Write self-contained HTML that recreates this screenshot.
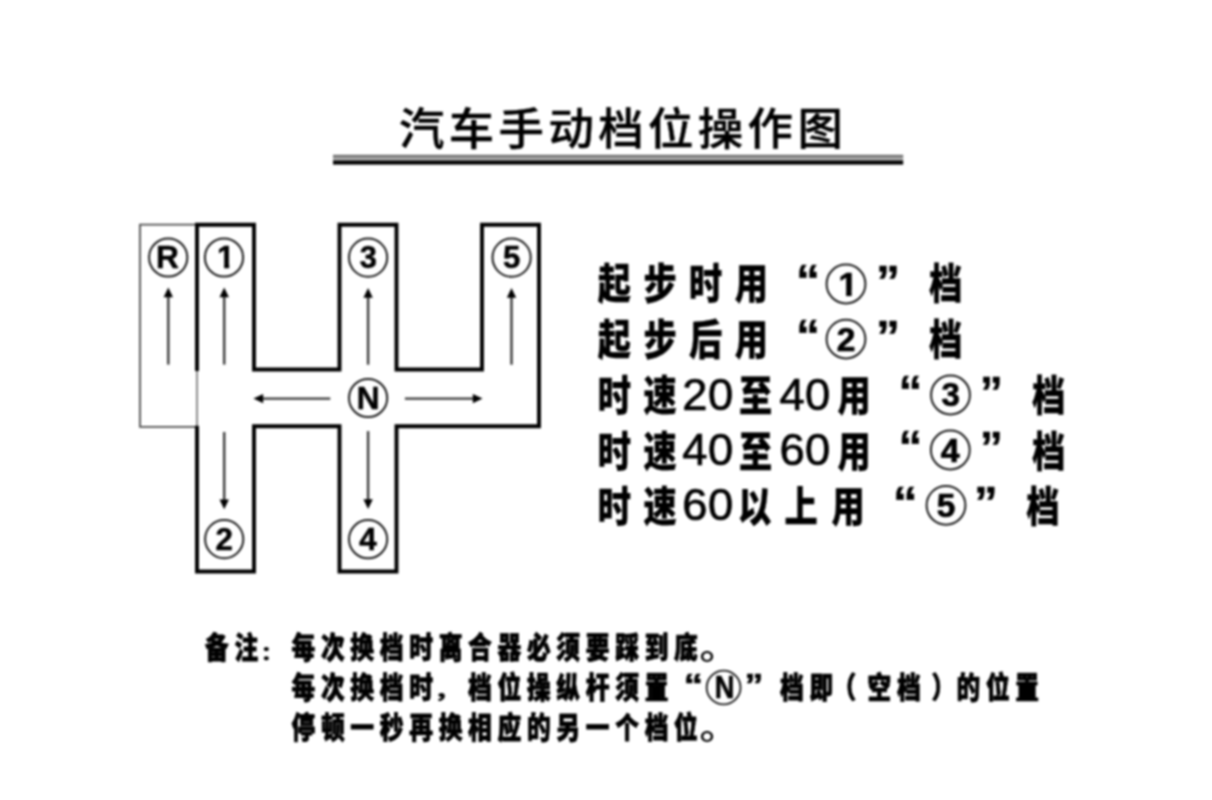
<!DOCTYPE html>
<html lang="zh-CN">
<head>
<meta charset="utf-8">
<title>汽车手动档位操作图</title>
<style>
html,body{margin:0;padding:0;background:#fff;}
body{width:1212px;height:800px;overflow:hidden;position:relative;font-family:"Liberation Sans","Noto Sans CJK SC",sans-serif;color:#000;}
svg{position:absolute;left:0;top:0;display:block;}
text{fill:#000;white-space:pre;}
</style>
</head>
<body>
<svg width="1212" height="800" viewBox="0 0 1212 800" style="filter:blur(1.0px)">
<rect x="0" y="0" width="1212" height="800" fill="#fff"/>
<g id="title">
<text transform="translate(399 144.6) scale(1.018 1)" x="0 48.919 97.839 146.758 195.678 244.597 293.517 342.436 391.356" y="0" font-family='"Liberation Sans","Noto Sans CJK SC",sans-serif' font-size="44.6" font-weight="500" stroke="#000" stroke-width="0.4" stroke-linejoin="round">汽车手动档位操作图</text>
<rect x="333" y="154.8" width="570.2" height="2.2" fill="#6e6e6e"/>
<rect x="333" y="157" width="570.2" height="3.5" fill="#a6a6a6"/>
<rect x="333" y="160.5" width="570.2" height="4.1" fill="#000"/>
</g>
<g id="gearbox">
<path d="M197 224.7 H140 V426.8 H197" fill="none" stroke="#4c4c4c" stroke-width="1.8"/>
<path d="M197 369.5 V426.3" fill="none" stroke="#4c4c4c" stroke-width="1.3"/>
<path d="M197 371 V224.7 H254 V369.5 H339.5 V224.7 H396.5 V369.5 H482 V224.7 H539 V426.3 H396.5 V571.5 H339.5 V426.3 H254 V571.5 H197 V425.7" fill="none" stroke="#000" stroke-width="3.9" stroke-linejoin="miter"/>
<line x1="168.3" y1="364.6" x2="168.3" y2="295.3" stroke="#3a3a3a" stroke-width="2.4"/><polygon points="168.3,287.5 173,297.3 163.6,297.3" fill="#000"/>
<line x1="224.2" y1="364.6" x2="224.2" y2="295.3" stroke="#3a3a3a" stroke-width="2.4"/><polygon points="224.2,287.5 228.9,297.3 219.5,297.3" fill="#000"/>
<line x1="368.1" y1="364.7" x2="368.1" y2="295.7" stroke="#3a3a3a" stroke-width="2.4"/><polygon points="368.1,287.9 372.8,297.7 363.4,297.7" fill="#000"/>
<line x1="511.5" y1="364.7" x2="511.5" y2="295.7" stroke="#3a3a3a" stroke-width="2.4"/><polygon points="511.5,287.9 516.2,297.7 506.8,297.7" fill="#000"/>
<line x1="224.2" y1="432" x2="224.2" y2="501.4" stroke="#3a3a3a" stroke-width="2.4"/><polygon points="224.2,509.2 219.5,499.4 228.9,499.4" fill="#000"/>
<line x1="368.1" y1="431.1" x2="368.1" y2="501.2" stroke="#3a3a3a" stroke-width="2.4"/><polygon points="368.1,509 363.4,499.2 372.8,499.2" fill="#000"/>
<line x1="330.3" y1="398.6" x2="261.2" y2="398.6" stroke="#3a3a3a" stroke-width="2.4"/><polygon points="253.4,398.6 263.2,393.9 263.2,403.3" fill="#000"/>
<line x1="404.9" y1="398.6" x2="474.8" y2="398.6" stroke="#3a3a3a" stroke-width="2.4"/><polygon points="482.6,398.6 472.8,403.3 472.8,393.9" fill="#000"/>
<circle cx="168.2" cy="257.5" r="19.1" fill="none" stroke="#1c1c1c" stroke-width="2"/><text transform="translate(156.089 268.4) scale(1 1)" font-family='"Liberation Sans",sans-serif' font-size="31.594" font-weight="700" stroke="#000" stroke-width="0.5" stroke-linejoin="round">R</text>
<circle cx="224" cy="257.5" r="19.1" fill="none" stroke="#1c1c1c" stroke-width="2"/><clipPath id="one1"><rect x="0" y="-31.594" width="31.594" height="26.619"/><rect x="7.014" y="-5.475" width="5.055" height="5.975"/></clipPath><g transform="translate(217.051 268.4) scale(1.007 1)" clip-path="url(#one1)"><text x="0" y="0" font-family='"Liberation Sans",sans-serif' font-size="31.594" font-weight="700" stroke="#000" stroke-width="0.5" stroke-linejoin="round">1</text></g>
<circle cx="368.1" cy="257.6" r="19.1" fill="none" stroke="#1c1c1c" stroke-width="2"/><text transform="translate(359.719 268.192) scale(1 1)" font-family='"Liberation Sans",sans-serif' font-size="30.849" font-weight="700" stroke="#000" stroke-width="0.5" stroke-linejoin="round">3</text>
<circle cx="511.6" cy="257.6" r="19.1" fill="none" stroke="#1c1c1c" stroke-width="2"/><text transform="translate(502.932 268.189) scale(1 1)" font-family='"Liberation Sans",sans-serif' font-size="31.143" font-weight="700" stroke="#000" stroke-width="0.5" stroke-linejoin="round">5</text>
<circle cx="368.1" cy="398" r="19.1" fill="none" stroke="#1c1c1c" stroke-width="2"/><text transform="translate(356.726 408.9) scale(1 1)" font-family='"Liberation Sans",sans-serif' font-size="31.594" font-weight="700" stroke="#000" stroke-width="0.5" stroke-linejoin="round">N</text>
<circle cx="224.2" cy="539.1" r="19.1" fill="none" stroke="#1c1c1c" stroke-width="2"/><text transform="translate(215.595 550) scale(1 1)" font-family='"Liberation Sans",sans-serif' font-size="31.292" font-weight="700" stroke="#000" stroke-width="0.5" stroke-linejoin="round">2</text>
<circle cx="368.1" cy="539.2" r="19.1" fill="none" stroke="#1c1c1c" stroke-width="2"/><text transform="translate(359.148 550.1) scale(1 1)" font-family='"Liberation Sans",sans-serif' font-size="31.594" font-weight="700" stroke="#000" stroke-width="0.5" stroke-linejoin="round">4</text>
</g>
<g id="tips">
<text transform="translate(597.7 299.3) scale(0.8 1)" x="0 57.125 114.25 171.375" y="0" font-family='"Liberation Sans","Noto Sans CJK SC",sans-serif' font-size="41.5" font-weight="900" stroke="#000" stroke-width="0.3" stroke-linejoin="round">起步时用</text>
<text transform="translate(795.88 296.328) scale(1.071 1)" x="0" y="0" font-family='"Liberation Sans","Noto Sans CJK SC",sans-serif' font-size="44.824" font-weight="900" stroke="#000" stroke-width="0.4" stroke-linejoin="round">“</text>
<circle cx="846" cy="284" r="19.4" fill="none" stroke="#1c1c1c" stroke-width="2"/><clipPath id="one2"><rect x="0" y="-33.913" width="33.913" height="28.683"/><rect x="7.529" y="-5.73" width="5.426" height="6.23"/></clipPath><g transform="translate(838.478 295.7) scale(1.015 1)" clip-path="url(#one2)"><text x="0" y="0" font-family='"Liberation Sans",sans-serif' font-size="33.913" font-weight="700" stroke="#000" stroke-width="0.7" stroke-linejoin="round">1</text></g>
<text transform="translate(875.92 296.972) scale(1.062 1)" x="0" y="0" font-family='"Liberation Sans","Noto Sans CJK SC",sans-serif' font-size="45.176" font-weight="900" stroke="#000" stroke-width="0.4" stroke-linejoin="round">”</text>
<text transform="translate(929 299.3) scale(0.8 1)" x="0" y="0" font-family='"Liberation Sans","Noto Sans CJK SC",sans-serif' font-size="41.5" font-weight="900" stroke="#000" stroke-width="0.3" stroke-linejoin="round">档</text>
<text transform="translate(597.7 354.8) scale(0.8 1)" x="0 57.125 114.25 171.375" y="0" font-family='"Liberation Sans","Noto Sans CJK SC",sans-serif' font-size="41.5" font-weight="900" stroke="#000" stroke-width="0.3" stroke-linejoin="round">起步后用</text>
<text transform="translate(795.88 351.428) scale(1.071 1)" x="0" y="0" font-family='"Liberation Sans","Noto Sans CJK SC",sans-serif' font-size="44.824" font-weight="900" stroke="#000" stroke-width="0.4" stroke-linejoin="round">“</text>
<circle cx="846" cy="339.1" r="19.4" fill="none" stroke="#1c1c1c" stroke-width="2"/><text transform="translate(836.763 350.8) scale(1 1)" font-family='"Liberation Sans",sans-serif' font-size="33.589" font-weight="700" stroke="#000" stroke-width="0.7" stroke-linejoin="round">2</text>
<text transform="translate(875.92 352.072) scale(1.062 1)" x="0" y="0" font-family='"Liberation Sans","Noto Sans CJK SC",sans-serif' font-size="45.176" font-weight="900" stroke="#000" stroke-width="0.4" stroke-linejoin="round">”</text>
<text transform="translate(929 354.8) scale(0.8 1)" x="0" y="0" font-family='"Liberation Sans","Noto Sans CJK SC",sans-serif' font-size="41.5" font-weight="900" stroke="#000" stroke-width="0.3" stroke-linejoin="round">档</text>
<text transform="translate(597.7 411.4) scale(0.8 1)" x="0 57.125" y="0" font-family='"Liberation Sans","Noto Sans CJK SC",sans-serif' font-size="41.5" font-weight="900" stroke="#000" stroke-width="0.3" stroke-linejoin="round">时速</text>
<text transform="translate(682.3 410.1) scale(1.03 1)" x="0 25.049" y="0" font-family='"Liberation Sans",sans-serif' font-size="44" font-weight="400" stroke="#000" stroke-width="0.7" stroke-linejoin="round">20</text>
<text transform="translate(739 411.4) scale(0.8 1)" x="0" y="0" font-family='"Liberation Sans","Noto Sans CJK SC",sans-serif' font-size="41.5" font-weight="900" stroke="#000" stroke-width="0.3" stroke-linejoin="round">至</text>
<text transform="translate(779.6 410.1) scale(1.03 1)" x="0 24.563" y="0" font-family='"Liberation Sans",sans-serif' font-size="44" font-weight="400" stroke="#000" stroke-width="0.7" stroke-linejoin="round">40</text>
<text transform="translate(837.5 411.4) scale(0.8 1)" x="0" y="0" font-family='"Liberation Sans","Noto Sans CJK SC",sans-serif' font-size="41.5" font-weight="900" stroke="#000" stroke-width="0.3" stroke-linejoin="round">用</text>
<text transform="translate(898.601 407.328) scale(1.064 1)" x="0" y="0" font-family='"Liberation Sans","Noto Sans CJK SC",sans-serif' font-size="44.824" font-weight="900" stroke="#000" stroke-width="0.4" stroke-linejoin="round">“</text>
<circle cx="950.5" cy="395" r="19.4" fill="none" stroke="#1c1c1c" stroke-width="2"/><text transform="translate(941.504 406.369) scale(1 1)" font-family='"Liberation Sans",sans-serif' font-size="33.113" font-weight="700" stroke="#000" stroke-width="0.7" stroke-linejoin="round">3</text>
<text transform="translate(979.651 407.972) scale(1.025 1)" x="0" y="0" font-family='"Liberation Sans","Noto Sans CJK SC",sans-serif' font-size="45.176" font-weight="900" stroke="#000" stroke-width="0.4" stroke-linejoin="round">”</text>
<text transform="translate(1032 411.4) scale(0.8 1)" x="0" y="0" font-family='"Liberation Sans","Noto Sans CJK SC",sans-serif' font-size="41.5" font-weight="900" stroke="#000" stroke-width="0.3" stroke-linejoin="round">档</text>
<text transform="translate(597.7 466.5) scale(0.8 1)" x="0 57.125" y="0" font-family='"Liberation Sans","Noto Sans CJK SC",sans-serif' font-size="41.5" font-weight="900" stroke="#000" stroke-width="0.3" stroke-linejoin="round">时速</text>
<text transform="translate(682.3 465.1) scale(1.03 1)" x="0 25.049" y="0" font-family='"Liberation Sans",sans-serif' font-size="44" font-weight="400" stroke="#000" stroke-width="0.7" stroke-linejoin="round">40</text>
<text transform="translate(739 466.5) scale(0.8 1)" x="0" y="0" font-family='"Liberation Sans","Noto Sans CJK SC",sans-serif' font-size="41.5" font-weight="900" stroke="#000" stroke-width="0.3" stroke-linejoin="round">至</text>
<text transform="translate(779.6 465.1) scale(1.03 1)" x="0 24.563" y="0" font-family='"Liberation Sans",sans-serif' font-size="44" font-weight="400" stroke="#000" stroke-width="0.7" stroke-linejoin="round">60</text>
<text transform="translate(837.5 466.5) scale(0.8 1)" x="0" y="0" font-family='"Liberation Sans","Noto Sans CJK SC",sans-serif' font-size="41.5" font-weight="900" stroke="#000" stroke-width="0.3" stroke-linejoin="round">用</text>
<text transform="translate(898.601 462.328) scale(1.064 1)" x="0" y="0" font-family='"Liberation Sans","Noto Sans CJK SC",sans-serif' font-size="44.824" font-weight="900" stroke="#000" stroke-width="0.4" stroke-linejoin="round">“</text>
<circle cx="950.3" cy="450" r="19.4" fill="none" stroke="#1c1c1c" stroke-width="2"/><text transform="translate(940.691 461.7) scale(1 1)" font-family='"Liberation Sans",sans-serif' font-size="33.913" font-weight="700" stroke="#000" stroke-width="0.7" stroke-linejoin="round">4</text>
<text transform="translate(979.651 462.972) scale(1.025 1)" x="0" y="0" font-family='"Liberation Sans","Noto Sans CJK SC",sans-serif' font-size="45.176" font-weight="900" stroke="#000" stroke-width="0.4" stroke-linejoin="round">”</text>
<text transform="translate(1032 466.5) scale(0.8 1)" x="0" y="0" font-family='"Liberation Sans","Noto Sans CJK SC",sans-serif' font-size="41.5" font-weight="900" stroke="#000" stroke-width="0.3" stroke-linejoin="round">档</text>
<text transform="translate(597.7 522.3) scale(0.8 1)" x="0 57.125" y="0" font-family='"Liberation Sans","Noto Sans CJK SC",sans-serif' font-size="41.5" font-weight="900" stroke="#000" stroke-width="0.3" stroke-linejoin="round">时速</text>
<text transform="translate(682.3 520.4) scale(1.03 1)" x="0 25.049" y="0" font-family='"Liberation Sans",sans-serif' font-size="44" font-weight="400" stroke="#000" stroke-width="0.7" stroke-linejoin="round">60</text>
<text transform="translate(738 522.3) scale(0.8 1)" x="0 58.125 116.875" y="0" font-family='"Liberation Sans","Noto Sans CJK SC",sans-serif' font-size="41.5" font-weight="900" stroke="#000" stroke-width="0.3" stroke-linejoin="round">以上用</text>
<text transform="translate(892.733 517.628) scale(1.115 1)" x="0" y="0" font-family='"Liberation Sans","Noto Sans CJK SC",sans-serif' font-size="44.824" font-weight="900" stroke="#000" stroke-width="0.4" stroke-linejoin="round">“</text>
<circle cx="946" cy="505.3" r="19.4" fill="none" stroke="#1c1c1c" stroke-width="2"/><text transform="translate(936.696 516.666) scale(1 1)" font-family='"Liberation Sans",sans-serif' font-size="33.429" font-weight="700" stroke="#000" stroke-width="0.7" stroke-linejoin="round">5</text>
<text transform="translate(974.064 518.272) scale(1.05 1)" x="0" y="0" font-family='"Liberation Sans","Noto Sans CJK SC",sans-serif' font-size="45.176" font-weight="900" stroke="#000" stroke-width="0.4" stroke-linejoin="round">”</text>
<text transform="translate(1026.3 522.3) scale(0.8 1)" x="0" y="0" font-family='"Liberation Sans","Noto Sans CJK SC",sans-serif' font-size="41.5" font-weight="900" stroke="#000" stroke-width="0.3" stroke-linejoin="round">档</text>
</g>
<g id="notes">
<text transform="translate(205 658) scale(0.805 1)" x="0 36.559" y="0" font-family='"Liberation Sans","Noto Sans CJK SC",sans-serif' font-size="29.5" font-weight="900" stroke="#000" stroke-width="0.8" stroke-linejoin="round">备注</text>
<text transform="translate(260.306 659.903) scale(1.237 1)" x="0" y="0" font-family='"Liberation Sans","Noto Sans CJK SC",sans-serif' font-size="19.706" font-weight="900">：</text>
<text transform="translate(291.5 658) scale(0.805 1)" x="0 36.559 73.118 109.677 146.236 182.795 219.354 255.913 292.472 329.031 365.59 402.149 438.708 475.267" y="0" font-family='"Liberation Sans","Noto Sans CJK SC",sans-serif' font-size="29.5" font-weight="900" stroke="#000" stroke-width="0.8" stroke-linejoin="round">每次换档时离合器必须要踩到底</text>
<text transform="translate(699.572 659.23) scale(1.196 1)" x="0" y="0" font-family='"Liberation Sans","Noto Sans CJK SC",sans-serif' font-size="32.553" font-weight="500">。</text>
<text transform="translate(291.5 698.2) scale(0.805 1)" x="0 36.559 73.118 109.677 146.236" y="0" font-family='"Liberation Sans","Noto Sans CJK SC",sans-serif' font-size="29.5" font-weight="900" stroke="#000" stroke-width="0.8" stroke-linejoin="round">每次换档时</text>
<text transform="translate(432.953 698.457) scale(1.366 1)" x="0" y="0" font-family='"Liberation Sans","Noto Sans CJK SC",sans-serif' font-size="20.5" font-weight="900">，</text>
<text transform="translate(468.08 698.2) scale(0.805 1)" x="0 36.559 73.118 109.677 146.236 182.795 219.354" y="0" font-family='"Liberation Sans","Noto Sans CJK SC",sans-serif' font-size="29.5" font-weight="900" stroke="#000" stroke-width="0.8" stroke-linejoin="round">档位操纵杆须置</text>
<text transform="translate(683.671 695.618) scale(1.214 1)" x="0" y="0" font-family='"Liberation Sans","Noto Sans CJK SC",sans-serif' font-size="31.765" font-weight="900" stroke="#000" stroke-width="0.6" stroke-linejoin="round">“</text>
<circle cx="723.6" cy="687.5" r="16.9" fill="none" stroke="#1c1c1c" stroke-width="1.9"/><text transform="translate(714.682 697.5) scale(0.871 1)" font-family='"Liberation Sans",sans-serif' font-size="31.304" font-weight="700" stroke="#000" stroke-width="0.6" stroke-linejoin="round">N</text>
<text transform="translate(744.509 695.618) scale(1.187 1)" x="0" y="0" font-family='"Liberation Sans","Noto Sans CJK SC",sans-serif' font-size="31.765" font-weight="900" stroke="#000" stroke-width="0.6" stroke-linejoin="round">”</text>
<text transform="translate(780 698.2) scale(0.805 1)" x="0 36.559" y="0" font-family='"Liberation Sans","Noto Sans CJK SC",sans-serif' font-size="29.5" font-weight="900" stroke="#000" stroke-width="0.8" stroke-linejoin="round">档即</text>
<text transform="translate(832.5 698.2) scale(0.805 1)" x="0" y="0" font-family='"Liberation Sans","Noto Sans CJK SC",sans-serif' font-size="29.5" font-weight="900" stroke="#000" stroke-width="0.8" stroke-linejoin="round">（</text>
<text transform="translate(867.5 698.2) scale(0.805 1)" x="0 36.559" y="0" font-family='"Liberation Sans","Noto Sans CJK SC",sans-serif' font-size="29.5" font-weight="900" stroke="#000" stroke-width="0.8" stroke-linejoin="round">空档</text>
<text transform="translate(931.5 698.2) scale(0.805 1)" x="0" y="0" font-family='"Liberation Sans","Noto Sans CJK SC",sans-serif' font-size="29.5" font-weight="900" stroke="#000" stroke-width="0.8" stroke-linejoin="round">）</text>
<text transform="translate(956.5 698.2) scale(0.805 1)" x="0 36.559 73.118" y="0" font-family='"Liberation Sans","Noto Sans CJK SC",sans-serif' font-size="29.5" font-weight="900" stroke="#000" stroke-width="0.8" stroke-linejoin="round">的位置</text>
<text transform="translate(291.5 737.8) scale(0.805 1)" x="0 36.559 73.118 109.677 146.236 182.795 219.354 255.913 292.472 329.031 365.59 402.149 438.708 475.267" y="0" font-family='"Liberation Sans","Noto Sans CJK SC",sans-serif' font-size="29.5" font-weight="900" stroke="#000" stroke-width="0.8" stroke-linejoin="round">停顿一秒再换相应的另一个档位</text>
<text transform="translate(699.572 739.03) scale(1.196 1)" x="0" y="0" font-family='"Liberation Sans","Noto Sans CJK SC",sans-serif' font-size="32.553" font-weight="500">。</text>
</g>
</svg>
</body>
</html>
